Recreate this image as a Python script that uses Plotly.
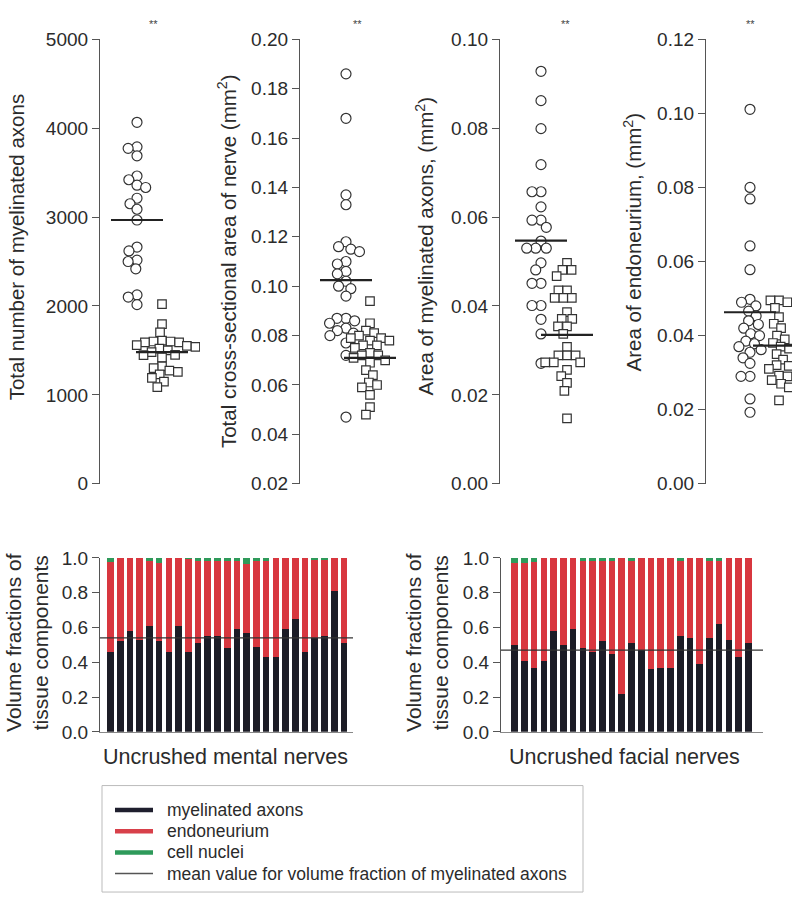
import numpy as np
import plotly.graph_objects as go

W, H = 792, 905
FONT = "Liberation Sans, Arial, Helvetica, sans-serif"
TXT = "#2b2b2b"
AX = "#555555"

# ---------------- data ----------------
axons_circles = [4066, 3790, 3773, 3689, 3462, 3420, 3359, 3333, 3212, 3150, 3088, 2967,
                 2663, 2619, 2516, 2500, 2418, 2124, 2100, 2015]
axons_squares = [2020, 1795, 1703, 1610, 1600, 1600, 1590, 1590, 1560, 1550, 1540, 1520,
                 1500, 1480, 1450, 1447, 1420, 1321, 1300, 1272, 1258, 1230, 1190, 1148, 1088]
axons_means = [2967, 1480]

nerve_circles = [0.186, 0.168, 0.137, 0.133, 0.118, 0.116, 0.115, 0.114, 0.110, 0.109, 0.106,
                 0.105, 0.102, 0.100, 0.099, 0.096, 0.087, 0.087, 0.086, 0.085, 0.083, 0.082,
                 0.081, 0.080, 0.077, 0.072, 0.047]
nerve_squares = [0.094, 0.085, 0.082, 0.081, 0.080, 0.079, 0.079, 0.078, 0.078, 0.076, 0.076,
                 0.075, 0.073, 0.072, 0.072, 0.071, 0.070, 0.069, 0.066, 0.064, 0.061, 0.060,
                 0.059, 0.056, 0.051, 0.048]
nerve_means = [0.1025, 0.071]

myel_circles = [0.0928, 0.0862, 0.0799, 0.0718, 0.0657, 0.0657, 0.0623, 0.0593, 0.0593, 0.0577,
                0.0546, 0.0530, 0.0530, 0.0530, 0.0497, 0.0481, 0.0451, 0.0451, 0.0401, 0.0401,
                0.0370, 0.0337, 0.0271]
myel_squares = [0.0497, 0.0481, 0.0481, 0.0467, 0.0435, 0.0435, 0.0418, 0.0418, 0.0418, 0.0386,
                0.0371, 0.0371, 0.0354, 0.0354, 0.0337, 0.0308, 0.0289, 0.0289, 0.0289, 0.0273,
                0.0273, 0.0273, 0.0256, 0.0242, 0.0227, 0.0209, 0.0147]
myel_means = [0.0547, 0.0335]

endo_circles = [0.1011, 0.0800, 0.0769, 0.0642, 0.0578, 0.0498, 0.0490, 0.0480, 0.0466, 0.0453,
                0.0440, 0.0430, 0.0420, 0.0405, 0.0400, 0.0385, 0.0378, 0.0370, 0.0362, 0.0355,
                0.0340, 0.0325, 0.0290, 0.0290, 0.0229, 0.0193]
endo_squares = [0.0495, 0.0495, 0.0490, 0.0475, 0.0450, 0.0432, 0.0420, 0.0400, 0.0390, 0.0380,
                0.0370, 0.0365, 0.0350, 0.0335, 0.0320, 0.0318, 0.0310, 0.0292, 0.0290, 0.0280,
                0.0270, 0.0260, 0.0225]
endo_means = [0.0463, 0.0373]

mental_myelinated = [0.46, 0.52, 0.58, 0.53, 0.61, 0.52, 0.46, 0.61, 0.46, 0.51, 0.55, 0.55, 0.48,
                     0.59, 0.57, 0.49, 0.43, 0.43, 0.59, 0.65, 0.46, 0.54, 0.55, 0.81, 0.51]
mental_nuclei = [0.025, 0.0, 0.0, 0.0, 0.02, 0.03, 0.0, 0.0, 0.005, 0.015, 0.015, 0.015, 0.015,
                 0.015, 0.035, 0.02, 0.02, 0.0, 0.0, 0.0, 0.0, 0.01, 0.01, 0.0, 0.0]
mental_mean = 0.54

facial_myelinated = [0.50, 0.41, 0.37, 0.41, 0.58, 0.50, 0.59, 0.48, 0.46, 0.52, 0.45, 0.22, 0.51,
                     0.47, 0.36, 0.37, 0.37, 0.55, 0.54, 0.39, 0.54, 0.62, 0.53, 0.43, 0.51]
facial_nuclei = [0.03, 0.03, 0.025, 0.0, 0.0, 0.0, 0.0, 0.02, 0.02, 0.02, 0.02, 0.0, 0.015,
                 0.0, 0.0, 0.0, 0.0, 0.015, 0.0, 0.0, 0.015, 0.015, 0.0, 0.0, 0.0]
facial_mean = 0.47

# ---------------- helpers ----------------
def px(x):
    return x / W


def py(y):
    return 1 - y / H


def swarm(vals, lo, hi, d, height=455.0):
    ypix = (np.array(vals, float) - lo) / (hi - lo) * height
    order = np.argsort(-ypix, kind="stable")
    placed = []
    xs = np.zeros(len(vals))
    for i in order:
        cands = [0.0]
        for (xp, yp) in placed:
            dy = ypix[i] - yp
            if abs(dy) < d:
                dx = np.sqrt(d * d - dy * dy)
                cands += [xp + dx, xp - dx]
        cands.sort(key=lambda c: (abs(c), c))
        for c in cands:
            if all((c - xp) ** 2 + (ypix[i] - yp) ** 2 >= d * d - 1e-6 for xp, yp in placed):
                xs[i] = c
                break
        placed.append((xs[i], ypix[i]))
    return xs


fig = go.Figure()

TOP_Y = [py(485), py(30)]
panels = [
    (axons_circles, axons_squares, axons_means, [0, 5000], (100, 200), 37, 62,
     [0, 1000, 2000, 3000, 4000, 5000], None),
    (nerve_circles, nerve_squares, nerve_means, [0.02, 0.20], (300, 405), 46, 70,
     [0.02, 0.04, 0.06, 0.08, 0.10, 0.12, 0.14, 0.16, 0.18, 0.20], ".2f"),
    (myel_circles, myel_squares, myel_means, [0.0, 0.10], (500, 605), 41, 67,
     [0.0, 0.02, 0.04, 0.06, 0.08, 0.10], ".2f"),
    (endo_circles, endo_squares, endo_means, [0.0, 0.12], (706, 792), 44, 73,
     [0.0, 0.02, 0.04, 0.06, 0.08, 0.10, 0.12], ".2f"),
]

layout_axes = {}
for k, (circ, sq, means, rng, dom, cc, sc, tv, fmt) in enumerate(panels, start=1):
    xa = "x" if k == 1 else f"x{k}"
    ya = "y" if k == 1 else f"y{k}"
    wpx = dom[1] - dom[0]
    cx = cc + swarm(circ, rng[0], rng[1], 9.0)
    sx = sc + swarm(sq, rng[0], rng[1], 8.6)
    fig.add_trace(go.Scatter(
        x=cx, y=circ, mode="markers", xaxis=xa, yaxis=ya, showlegend=False,
        marker=dict(symbol="circle", size=10, color="white",
                    line=dict(color="#333333", width=1.2)),
        hoverinfo="y"))
    fig.add_trace(go.Scatter(
        x=sx, y=sq, mode="markers", xaxis=xa, yaxis=ya, showlegend=False,
        marker=dict(symbol="square", size=8.5, color="white",
                    line=dict(color="#333333", width=1.2)),
        hoverinfo="y"))
    for m, c in zip(means, (cc, sc)):
        fig.add_trace(go.Scatter(
            x=[c - 26, c + 26], y=[m, m], mode="lines", xaxis=xa, yaxis=ya,
            showlegend=False, line=dict(color="#222222", width=2.2), hoverinfo="skip"))
    key = "" if k == 1 else str(k)
    layout_axes[f"xaxis{key}"] = dict(domain=[px(dom[0]), px(dom[1])], range=[0, wpx],
                                      visible=False, fixedrange=True, anchor=ya)
    ya_cfg = dict(domain=TOP_Y, range=rng, anchor=xa, showline=True, linecolor=AX,
                  linewidth=1.2, ticks="outside", ticklen=7, tickcolor=AX, tickwidth=1.2,
                  tickvals=tv, showgrid=False, zeroline=False,
                  tickfont=dict(size=19, color=TXT, family=FONT))
    if fmt:
        ya_cfg["tickformat"] = fmt
    layout_axes[f"yaxis{key}"] = ya_cfg

# ---------------- bar charts ----------------
BLACK = "#1c1c26"
RED = "#d8373f"
GREEN = "#2f9a5a"
BOT_Y = [py(739), py(561)]
bars = [
    (mental_myelinated, mental_nuclei, mental_mean, (100, 353), [-1.08, 24.93], 5),
    (facial_myelinated, facial_nuclei, facial_mean, (501, 763), [-1.4, 25.5], 6),
]
for myel, nuc, mean, dom, rng, k in bars:
    xa, ya = f"x{k}", f"y{k}"
    idx = list(range(len(myel)))
    endo = [1 - a - b for a, b in zip(myel, nuc)]
    for vals, col in ((myel, BLACK), (endo, RED), (nuc, GREEN)):
        fig.add_trace(go.Bar(x=idx, y=vals, xaxis=xa, yaxis=ya, marker_color=col,
                             marker_line_width=0, width=0.68, showlegend=False))
    fig.add_shape(type="line", xref=f"x{k} domain", yref=ya, x0=0, x1=1, y0=mean, y1=mean,
                  line=dict(color="#333333", width=1.3))
    layout_axes[f"xaxis{k}"] = dict(domain=[px(dom[0]), px(dom[1])], range=rng, anchor=ya,
                                    showline=True, linecolor="#888888", linewidth=1,
                                    showticklabels=False, ticks="", showgrid=False,
                                    zeroline=False, fixedrange=True)
    layout_axes[f"yaxis{k}"] = dict(domain=BOT_Y, range=[0, 1.0], anchor=xa, showline=True,
                                    linecolor=AX, linewidth=1.2, ticks="outside", ticklen=7,
                                    tickcolor=AX, tickvals=[0, 0.2, 0.4, 0.6, 0.8, 1.0],
                                    tickformat=".1f", showgrid=False, zeroline=False,
                                    tickfont=dict(size=19, color=TXT, family=FONT))

# ---------------- text ----------------
ann = []


def text(x, y, s, size=18, angle=0, xanchor="center", yanchor="middle", color=TXT):
    ann.append(dict(x=px(x), y=py(y), xref="paper", yref="paper", text=s, showarrow=False,
                    textangle=angle, xanchor=xanchor, yanchor=yanchor,
                    font=dict(size=size, color=color, family=FONT)))


text(16, 243, "Total number of myelinated axons", size=20.5, angle=-90)
text(227, 257, "Total cross-sectional area of nerve (mm<sup>2</sup>)", size=20.5, angle=-90)
text(425, 242, "Area of myelinated axons, (mm<sup>2</sup>)", size=20.5, angle=-90)
text(633, 238, "Area of endoneurium, (mm<sup>2</sup>)", size=20.5, angle=-90)
for xs_ in (153, 357, 565, 750):
    text(xs_, 14, "**", size=11, color="#444444")

text(27, 648, "Volume fractions of<br>tissue components", size=21, angle=-90)
text(427, 648, "Volume fractions of<br>tissue components", size=21, angle=-90)
text(225, 765, "Uncrushed mental nerves", size=21.5)
text(624, 765, "Uncrushed facial nerves", size=21.5)

shapes = [dict(type="rect", xref="paper", yref="paper", x0=px(102), x1=px(583),
               y0=py(903), y1=py(794), line=dict(color="#bbbbbb", width=1))]
legend_items = [("myelinated axons", "#1f1f2e", 4.5),
                ("endoneurium", "#d8404a", 4.5),
                ("cell nuclei", "#2e9a5a", 4.5),
                ("mean value for volume fraction of myelinated axons", "#555555", 1.5)]
for i, (lab, col, lw) in enumerate(legend_items):
    yy = 819 + i * 21.7
    shapes.append(dict(type="line", xref="paper", yref="paper", x0=px(115), x1=px(153),
                       y0=py(yy), y1=py(yy), line=dict(color=col, width=lw)))
    text(165, yy, lab, size=17.5, xanchor="left")

fig.update_layout(
    width=W, height=H, autosize=False,
    margin=dict(l=0, r=0, t=0, b=0),
    paper_bgcolor="white", plot_bgcolor="white",
    barmode="stack", bargap=0.3,
    font=dict(family=FONT, color=TXT),
    annotations=ann,
    **layout_axes,
)
for s in shapes:
    fig.add_shape(**s)

POST = ("document.documentElement.style.margin='0';document.body.style.margin='0';"
        "document.body.style.overflow='hidden';"
        "var d=document.getElementById('{plot_id}');"
        "d.style.position='absolute';d.style.top='0px';d.style.left='0px';")
fig.write_html("out.html", config={"displayModeBar": False}, post_script=POST)
